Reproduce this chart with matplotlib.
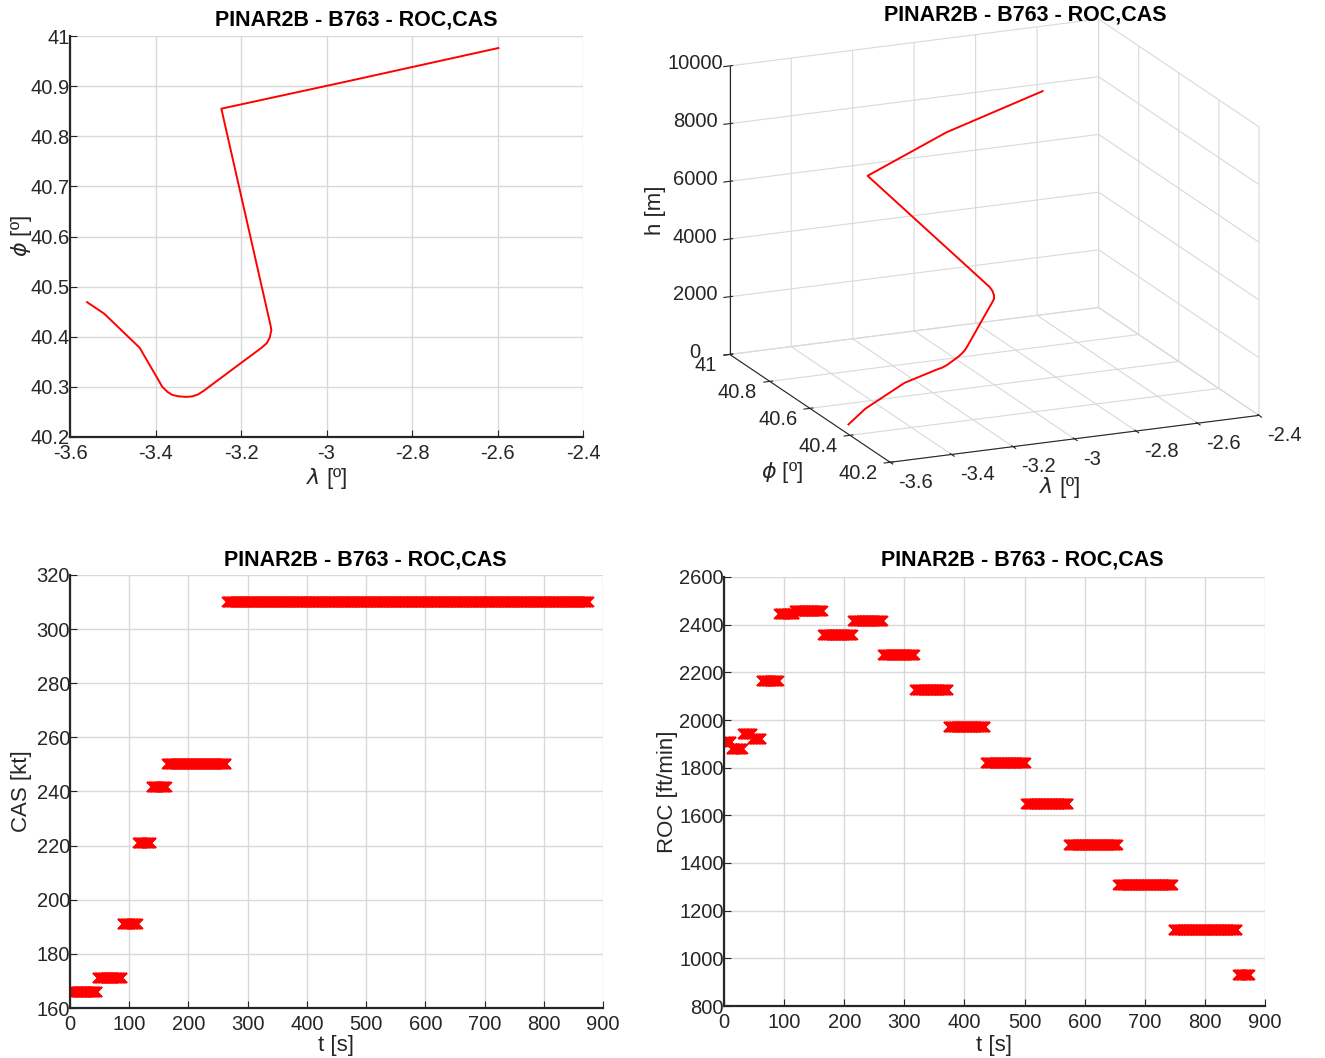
import numpy as np
import matplotlib
matplotlib.use('Agg')
import matplotlib.pyplot as plt

plt.rcParams['font.family'] = ['Liberation Sans', 'DejaVu Sans']
plt.rcParams['mathtext.fontset'] = 'dejavusans'

TITLE = "PINAR2B - B763 - ROC,CAS"
TXT = '#262626'
GRID = '#d9d9d9'

# trayectoria (lon, lat, h)
lon = [-3.560, -3.520, -3.437, -3.384, -3.372, -3.361, -3.345, -3.328, -3.314,
       -3.300, -3.286, -3.212, -3.152, -3.140, -3.133, -3.129, -3.131,
       -3.246, -2.954, -2.598]
lat = [40.469, 40.446, 40.378, 40.300, 40.290, 40.284, 40.281, 40.280, 40.281,
       40.285, 40.293, 40.340, 40.378, 40.387, 40.398, 40.413, 40.423,
       40.855, 40.909, 40.976]
h = [0, 600, 1700, 2450, 2550, 2650, 2780, 2900, 3000,
     3100, 3200, 3700, 4100, 4170, 4240, 4320, 4400,
     6390, 7250, 7880]

# CAS por tramos: inicio [s], fin [s], valor [kt]
cas_t0 = [0, 47, 89, 115, 138, 164, 265]
cas_t1 = [46, 88, 114, 137, 163, 264, 876]
cas_val = [166, 171, 191, 221, 241.5, 250, 310]

# ROC por tramos: inicio [s], fin [s], valor [ft/min]
roc_t0 = [0, 13, 32, 48, 63, 92, 118, 165, 215, 265, 318, 374, 436, 503, 574, 656, 748, 855]
roc_t1 = [12, 31, 47, 62, 91, 117, 164, 214, 264, 317, 373, 435, 502, 573, 655, 747, 854, 875]
roc_val = [1907, 1880, 1942, 1921, 2165, 2446, 2458, 2355, 2414, 2272, 2127,
           1969, 1818, 1647, 1477, 1306, 1120, 931]

W, H = 1325, 1058
fig = plt.figure(figsize=(W / 100, H / 100), dpi=100)

TICK_FS = 14.5
LAB_FS = 16


def pos(x0, y0, x1, y1):
    return [x0 / W, 1 - y1 / H, (x1 - x0) / W, (y1 - y0) / H]


def style2d(ax, xlab, ylab, xl_px, yl_px, box):
    x0, y0, x1, y1 = box
    ax.grid(True, color=GRID, linewidth=1)
    ax.set_axisbelow(True)
    for s in ['top', 'right']:
        ax.spines[s].set_visible(False)
    for s in ['left', 'bottom']:
        ax.spines[s].set_color(TXT)
        ax.spines[s].set_linewidth(1.6)
    ax.tick_params(direction='in', length=5, colors=TXT, labelsize=TICK_FS)
    ax.tick_params(axis='x', pad=5)
    ax.tick_params(axis='y', pad=0)
    ax.set_xlabel(xlab, fontsize=LAB_FS, color=TXT, va='center')
    ax.set_ylabel(ylab, fontsize=LAB_FS, color=TXT, va='center')
    ax.xaxis.set_label_coords(0.5, -(xl_px - y1) / (y1 - y0))
    ax.yaxis.set_label_coords(-(x0 - yl_px) / (x1 - x0), 0.5)


def title_at(x, y):
    fig.text(x / W, 1 - y / H, TITLE, ha='center', va='center',
             fontsize=15.5, fontweight='bold', color='black')


def text_px(x, y, s, **kw):
    fig.text(x / W, 1 - y / H, s, ha='center', va='center',
             fontsize=LAB_FS, color=TXT, **kw)


# --- lat/lon
b1 = (70, 36, 583, 437)
ax1 = fig.add_axes(pos(*b1))
ax1.plot(lon, lat, color='red', linewidth=1.4)
ax1.set_xlim(-3.6, -2.4)
ax1.set_ylim(40.2, 41)
ax1.set_xticks(np.arange(-3.6, -2.39, 0.2))
ax1.set_xticklabels(['-3.6', '-3.4', '-3.2', '-3', '-2.8', '-2.6', '-2.4'])
ax1.set_yticks(np.arange(40.2, 41.01, 0.1))
ax1.set_yticklabels(['40.2', '40.3', '40.4', '40.5', '40.6', '40.7', '40.8', '40.9', '41'])
style2d(ax1, r'$\lambda$ [º]', r'$\phi$ [º]', 478, 22, b1)
title_at(356, 20)

# --- 3D
ax2 = fig.add_axes(pos(673, 12, 1303, 482), projection='3d', proj_type='ortho')
ax2.plot(lon, lat, h, color='red', linewidth=1.4)
ax2.set_xlim(-3.6, -2.4)
ax2.set_ylim(40.2, 41)
ax2.set_zlim(0, 10000)
ax2.set_xticks(np.arange(-3.6, -2.39, 0.2))
ax2.set_xticklabels(['-3.6', '-3.4', '-3.2', '-3', '-2.8', '-2.6', '-2.4'],
                    ha='left', va='center')
ax2.set_yticks(np.arange(40.2, 41.01, 0.2))
ax2.set_yticklabels(['40.2', '40.4', '40.6', '40.8', '41'], ha='right', va='center')
ax2.set_zticks(np.arange(0, 10001, 2000))
ax2.set_zticklabels(['0', '2000', '4000', '6000', '8000', '10000'], va='center_baseline')
ax2.view_init(elev=17, azim=-113.5)
ax2.set_box_aspect((1, 1, 0.75), zoom=1.33)
for axis in (ax2.xaxis, ax2.yaxis, ax2.zaxis):
    axis.set_pane_color((1, 1, 1, 0))
    axis._axinfo['grid']['color'] = GRID
    axis._axinfo['grid']['linewidth'] = 0.8
    axis.line.set_color(TXT)
ax2.tick_params(colors=TXT, labelsize=TICK_FS)
ax2.tick_params(axis='x', pad=1)
ax2.tick_params(axis='y', pad=-2)
text_px(1060, 487, r'$\lambda$ [º]')
text_px(782, 473, r'$\phi$ [º]')
text_px(655, 210, 'h [m]', rotation=90)
title_at(1025, 15)

# --- CAS
b3 = (70, 575, 603, 1008)
ax3 = fig.add_axes(pos(*b3))
for t0, t1, v in zip(cas_t0, cas_t1, cas_val):
    t = np.arange(t0, t1 + 1)
    ax3.plot(t, np.full(t.size, v), 'x', color='red', markersize=7.5, markeredgewidth=1.3)
ax3.set_xlim(0, 900)
ax3.set_ylim(160, 320)
ax3.set_xticks(np.arange(0, 901, 100))
ax3.set_yticks(np.arange(160, 321, 20))
style2d(ax3, 't [s]', 'CAS [kt]', 1046, 22, b3)
title_at(365, 560)

# --- ROC
b4 = (724, 577, 1265, 1006)
ax4 = fig.add_axes(pos(*b4))
for t0, t1, v in zip(roc_t0, roc_t1, roc_val):
    t = np.arange(t0, t1 + 1)
    ax4.plot(t, np.full(t.size, v), 'x', color='red', markersize=7.5, markeredgewidth=1.3)
ax4.set_xlim(0, 900)
ax4.set_ylim(800, 2600)
ax4.set_xticks(np.arange(0, 901, 100))
ax4.set_yticks(np.arange(800, 2601, 200))
style2d(ax4, 't [s]', 'ROC [ft/min]', 1046, 668, b4)
title_at(1022, 560)

fig.savefig('out.png', dpi=100)
